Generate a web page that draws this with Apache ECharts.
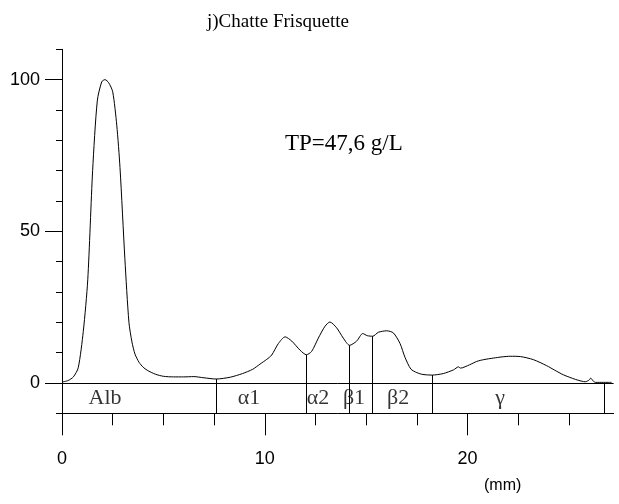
<!DOCTYPE html>
<html>
<head>
<meta charset="utf-8">
<script src="https://cdn.jsdelivr.net/npm/echarts@6/dist/echarts.min.js"></script>
<style>
  html, body { margin: 0; padding: 0; background: #fff; }
  #chart { width: 619px; height: 504px; }
</style>
</head>
<body>
<div id="chart"></div>
<script>
// Densitometry trace of the electrophoresis strip (migration in mm vs relative density)
const mm = [0, 0.3, 0.56, 0.8, 1.05, 1.27, 1.51, 1.74, 1.96, 2.12, 2.3, 2.5, 2.7, 2.86, 3.1, 3.3, 3.45, 3.6, 3.8, 4.0, 4.2,
  4.6, 5.0, 5.5, 6.0, 6.5, 7.0, 7.6, 8.3, 8.9, 9.4, 9.76, 10.1, 10.34, 10.67, 11.0, 11.33, 11.74, 12.05, 12.31, 12.64,
  12.97, 13.21, 13.54, 13.87, 14.18, 14.53, 14.83, 15.05, 15.32, 15.6, 16.01, 16.34, 16.67, 16.91, 17.2, 17.5, 17.8,
  18.25, 18.8, 19.3, 19.55, 19.65, 20.1, 20.45, 20.8, 21.27, 21.7, 22.1, 22.6, 23.24, 23.9, 24.3, 24.72, 25.1, 25.4,
  25.8, 26.0, 26.07, 26.2, 26.3, 26.7, 27.1];
const density = [0.3, 0.8, 2.0, 5.0, 17, 34, 70, 93, 99.3, 100, 99, 96, 85, 71, 41, 20, 13.5, 9.5, 6.8, 5.2, 4.2,
  2.9, 2.2, 2.0, 2.0, 2.1, 1.7, 1.3, 1.9, 3.1, 4.5, 6.2, 7.8, 9.2, 13, 15.2, 13.8, 10.8, 9.3, 10.4, 14.8,
  18.7, 20.1, 18.2, 14.8, 12.4, 13.8, 16.3, 15.6, 15.4, 16.7, 17.2, 16.5, 13, 8.5, 4.6, 3.4, 2.8,
  2.6, 3.1, 4.3, 5.3, 4.9, 6.0, 7.1, 7.7, 8.2, 8.6, 8.8, 8.7, 7.7, 5.7, 4.2, 2.7, 1.7, 1.0,
  0.4, 1.0, 1.6, 0.6, 0.2, 0.2, 0.2];

// Fraction boundaries (mm) and fraction names with their label positions (mm)
const boundaries = [7.6, 12.05, 14.18, 15.32, 18.25, 26.74];
const fractions = ['Alb', 'α1', 'α2', 'β1', 'β2', 'γ'];
const fractionLabelX = [2.12, 9.22, 12.62, 14.4, 16.57, 21.6];

// Axis ticks
const xMajorTicks = [0, 10, 20];
const xMinorTicks = [2.5, 5, 7.5, 12.5, 15, 17.5, 22.5, 25];
const yMajorTicks = [0, 50, 100];
const yMinorTicks = [-10, 10, 20, 30, 40, 60, 70, 80, 90, 110];

const X_MAX = 27.2, Y_MIN = -10, Y_MAX = 110;
const LABEL_ROW_Y = -5;

function curveAt(x) {
  for (let i = 1; i < mm.length; i++) {
    if (x <= mm[i]) {
      const t = (x - mm[i - 1]) / (mm[i] - mm[i - 1]);
      return density[i - 1] + t * (density[i] - density[i - 1]);
    }
  }
  return density[density.length - 1];
}

const ink = '#000';
const sans = '"Liberation Sans", Arial, sans-serif';
const serif = '"Liberation Serif", "Times New Roman", serif';

const chart = echarts.init(document.getElementById('chart'), null, { renderer: 'canvas' });

chart.setOption({
  animation: false,
  backgroundColor: '#fff',
  title: [{
    text: 'j)Chatte Frisquette',
    left: 202, top: 8,
    textStyle: { fontFamily: serif, fontSize: 19, fontWeight: 'normal', color: ink }
  }],
  graphic: [
    { type: 'text', left: 285, top: 132,
      style: { text: 'TP=47,6 g/L', font: '23px ' + serif, fill: ink } },
    { type: 'text', left: 484, top: 478,
      style: { text: '(mm)', font: '16px ' + sans, fill: ink } }
  ],
  grid: { left: 62, right: 5.4, top: 49.3, bottom: 90.7, containLabel: false },
  xAxis: [{
    type: 'value', min: 0, max: X_MAX,
    axisLine: { show: true, onZero: false, lineStyle: { color: ink, width: 1 } },
    axisTick: { show: true, customValues: xMajorTicks, length: 22, lineStyle: { color: ink } },
    axisLabel: { customValues: xMajorTicks, margin: 37, fontFamily: sans, fontSize: 18, color: ink },
    splitLine: { show: false }
  }, {
    type: 'value', min: 0, max: X_MAX, position: 'bottom',
    axisLine: { show: false, onZero: false },
    axisTick: { show: true, customValues: xMinorTicks, length: 12, lineStyle: { color: ink } },
    axisLabel: { show: false },
    splitLine: { show: false }
  }],
  yAxis: [{
    type: 'value', min: Y_MIN, max: Y_MAX,
    axisLine: { show: true, onZero: false, lineStyle: { color: ink, width: 1 } },
    axisTick: { show: true, customValues: yMajorTicks, length: 17, lineStyle: { color: ink } },
    axisLabel: { customValues: yMajorTicks, margin: 22, fontFamily: sans, fontSize: 18, color: ink },
    splitLine: { show: false }
  }, {
    type: 'value', min: Y_MIN, max: Y_MAX, position: 'left',
    axisLine: { show: false, onZero: false },
    axisTick: { show: true, customValues: yMinorTicks, length: 6, lineStyle: { color: ink } },
    axisLabel: { show: false },
    splitLine: { show: false }
  }],
  series: [{
    type: 'line',
    data: mm.map((x, i) => [x, density[i]]),
    showSymbol: false,
    smooth: 0.25,
    lineStyle: { color: ink, width: 1 },
    silent: true,
    markLine: {
      silent: true,
      symbol: 'none',
      label: { show: false },
      lineStyle: { color: ink, width: 1, type: 'solid' },
      data: [{ yAxis: 0 }].concat(boundaries.map(b => [
        { coord: [b, Y_MIN] },
        { coord: [b, curveAt(b)] }
      ]))
    }
  }, {
    type: 'scatter',
    data: fractions.map((name, i) => [fractionLabelX[i], LABEL_ROW_Y, name]),
    symbolSize: 0,
    silent: true,
    label: {
      show: true, position: 'inside',
      formatter: p => p.data[2],
      fontFamily: serif, fontSize: 22, color: ink
    }
  }]
});
</script>
</body>
</html>
